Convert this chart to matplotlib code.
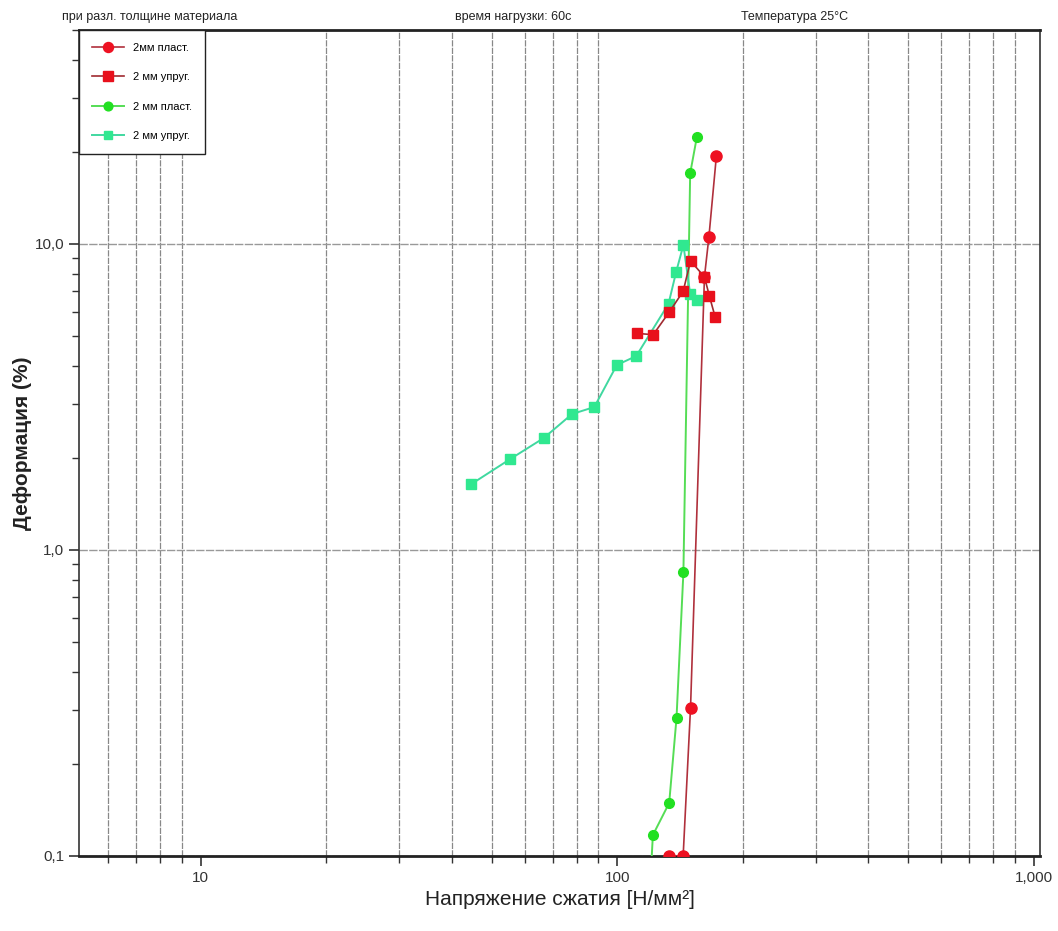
import numpy as np
import matplotlib
matplotlib.use('Agg')
import matplotlib.pyplot as plt
from matplotlib.ticker import LogLocator, FixedLocator, FixedFormatter, NullFormatter

plt.rcParams['font.family'] = ['Liberation Sans', 'DejaVu Sans']

# 2мм пласт. (red circles)
red_pl_x = [133, 144, 150, 162, 166, 173]
red_pl_y = [0.1, 0.1, 0.305, 7.8, 10.5, 19.3]

# 2 мм упруг. (red squares)
red_up_x = [111.5, 122, 133.5, 144, 150, 162, 166.5, 172]
red_up_y = [5.1, 5.05, 6.0, 7.0, 8.8, 7.8, 6.75, 5.75]

# 2 мм пласт. (green circles)
grn_pl_x = [120, 121.8, 133.3, 138.8, 144.2, 149.7, 155.3]
grn_pl_y = [0.08, 0.117, 0.149, 0.282, 0.845, 17.0, 22.3]

# 2 мм упруг. (mint squares)
mint_up_x = [44.6, 55.3, 66.6, 77.9, 88.1, 99.8, 111.1, 132.8, 138.6, 144.2, 149.7, 155.3]
mint_up_y = [1.64, 1.98, 2.32, 2.78, 2.93, 4.02, 4.30, 6.37, 8.12, 9.92, 6.86, 6.56]

x_ticks = [10, 100, 1000]
x_labels = ['10', '100', '1,000']
y_ticks = [0.1, 1, 10]
y_labels = ['0,1', '1,0', '10,0']

fig = plt.figure(figsize=(10.58, 9.31), dpi=100)
ax = fig.add_axes([0.0747, 0.0806, 0.9083, 0.8872])

ax.plot(red_pl_x, red_pl_y, color='#b0303c', lw=1.2, marker='o', ms=8,
        mfc='#ee1122', mec='#ee1122', label='2мм пласт.', zorder=4)
ax.plot(red_up_x, red_up_y, color='#a02a30', lw=1.2, marker='s', ms=7.5,
        mfc='#e8101c', mec='#e8101c', label='2 мм упруг.', zorder=4)
ax.plot(grn_pl_x, grn_pl_y, color='#55dd55', lw=1.4, marker='o', ms=7,
        mfc='#22e022', mec='#22e022', label='2 мм пласт.', zorder=3)
ax.plot(mint_up_x, mint_up_y, color='#40d8a0', lw=1.4, marker='s', ms=7,
        mfc='#30e890', mec='#30e890', label='2 мм упруг.', zorder=3)

ax.set_xscale('log')
ax.set_yscale('log')
ax.set_xlim(5.1, 1036)
ax.set_ylim(0.1, 50)

ax.xaxis.set_major_locator(FixedLocator(x_ticks))
ax.xaxis.set_major_formatter(FixedFormatter(x_labels))
ax.xaxis.set_minor_locator(LogLocator(base=10, subs=np.arange(2, 10)))
ax.xaxis.set_minor_formatter(NullFormatter())
ax.yaxis.set_major_locator(FixedLocator(y_ticks))
ax.yaxis.set_major_formatter(FixedFormatter(y_labels))
ax.yaxis.set_minor_locator(LogLocator(base=10, subs=np.arange(2, 10)))
ax.yaxis.set_minor_formatter(NullFormatter())

ax.tick_params(which='major', direction='out', length=7, width=1.2, labelsize=11, colors='#333333')
ax.tick_params(which='minor', direction='out', length=5, width=1.0, colors='#333333')

ax.xaxis.grid(True, which='minor', color='#888888', lw=0.9, linestyle=(0, (5, 1)))
ax.yaxis.grid(True, which='major', color='#999999', lw=1.0, linestyle=(0, (6, 1)))
ax.set_axisbelow(True)

for s in ['top', 'bottom']:
    ax.spines[s].set_linewidth(2.0)
    ax.spines[s].set_color('#222222')
for s in ['left', 'right']:
    ax.spines[s].set_linewidth(1.2)
    ax.spines[s].set_color('#333333')

ax.set_xlabel('Напряжение сжатия [Н/мм²]', fontsize=15, color='#222222', labelpad=4)
ax.set_ylabel('Деформация (%)', fontsize=15, color='#222222', fontweight='bold', va='center')
ax.yaxis.set_label_coords(-0.059, 0.5)

leg = ax.legend(loc='upper left', borderaxespad=0, fontsize=8, labelspacing=1.75,
                handlelength=2.9, handletextpad=0.8, borderpad=1.15, fancybox=False,
                framealpha=1, edgecolor='#222222', markerscale=0.9)
leg.get_frame().set_linewidth(1.0)

fig.text(0.059, 0.982, 'при разл. толщине материала', fontsize=9, color='#222222', va='center')
fig.text(0.43, 0.982, 'время нагрузки: 60с', fontsize=9, color='#222222', va='center')
fig.text(0.70, 0.982, 'Температура 25°С', fontsize=9, color='#222222', va='center')

plt.savefig('out.png', dpi=100)
